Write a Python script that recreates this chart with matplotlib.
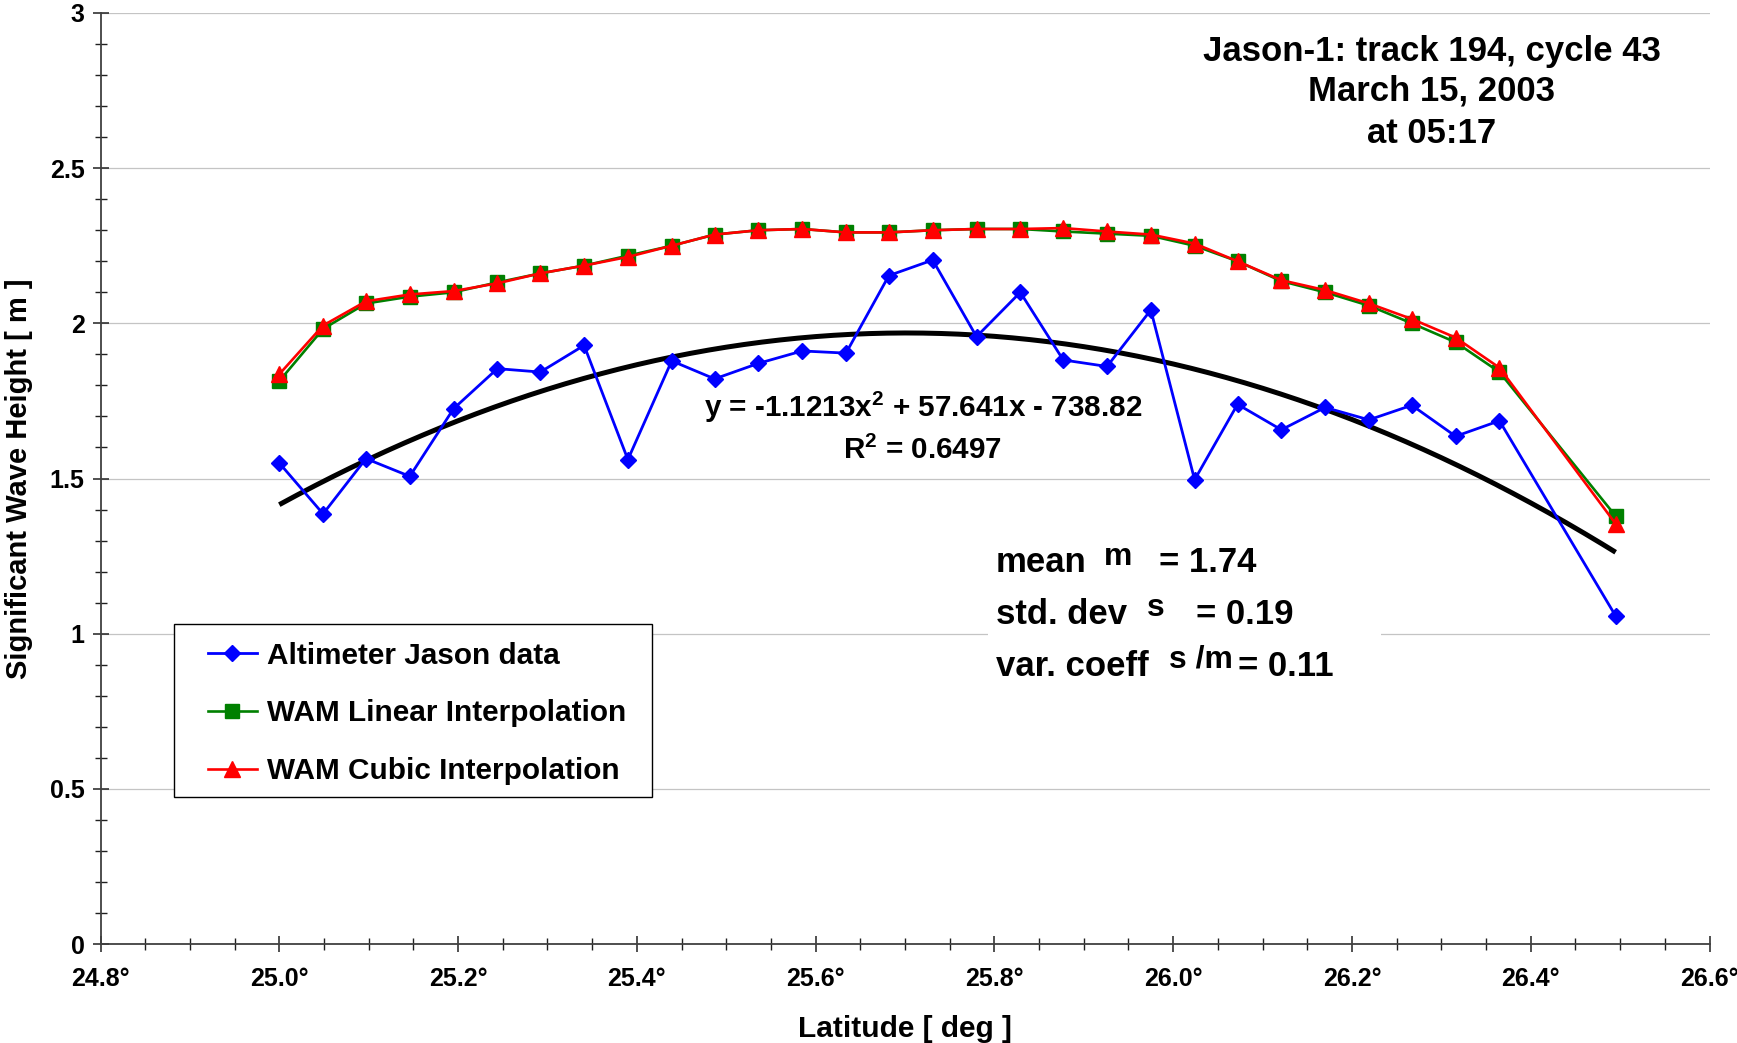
import numpy as np
import matplotlib
matplotlib.use("Agg")
import matplotlib.pyplot as plt
from matplotlib.ticker import MultipleLocator, FuncFormatter
from matplotlib.patches import Rectangle

plt.rcParams['font.family'] = ['Liberation Sans', 'DejaVu Sans']
plt.rcParams['font.weight'] = 'bold'
plt.rcParams['mathtext.fontset'] = 'custom'
plt.rcParams['mathtext.rm'] = 'Liberation Sans:bold'
plt.rcParams['mathtext.bf'] = 'Liberation Sans:bold'
plt.rcParams['mathtext.default'] = 'rm'

# ---- data ----
latitude = [25.000, 25.049, 25.097, 25.146, 25.195, 25.244, 25.292, 25.341,
            25.390, 25.439, 25.487, 25.536, 25.585, 25.634, 25.682, 25.731,
            25.780, 25.829, 25.877, 25.926, 25.975, 26.024, 26.072, 26.121,
            26.170, 26.219, 26.267, 26.316, 26.365, 26.495]
altimeter = [1.550, 1.386, 1.564, 1.507, 1.725, 1.854, 1.843, 1.929,
             1.561, 1.879, 1.821, 1.871, 1.911, 1.904, 2.154, 2.204,
             1.957, 2.100, 1.882, 1.861, 2.043, 1.496, 1.739, 1.657,
             1.729, 1.689, 1.736, 1.636, 1.686, 1.057]
wam_linear = [1.814, 1.982, 2.064, 2.086, 2.100, 2.132, 2.161, 2.186,
              2.218, 2.250, 2.286, 2.300, 2.304, 2.293, 2.293, 2.300,
              2.304, 2.304, 2.296, 2.289, 2.282, 2.250, 2.200, 2.136,
              2.100, 2.057, 2.000, 1.939, 1.843, 1.379]
wam_cubic = [1.836, 1.993, 2.071, 2.093, 2.104, 2.129, 2.161, 2.186,
             2.214, 2.250, 2.286, 2.300, 2.304, 2.293, 2.293, 2.300,
             2.304, 2.304, 2.307, 2.296, 2.286, 2.257, 2.200, 2.139,
             2.107, 2.064, 2.014, 1.954, 1.857, 1.354]
fit_coeffs = [-1.1213, 57.641, -738.82]   # quadratic trendline as printed
r_squared = 0.6497
stat_mean, stat_std, stat_cv = 1.74, 0.19, 0.11

x_ticks = [24.8, 25.0, 25.2, 25.4, 25.6, 25.8, 26.0, 26.2, 26.4, 26.6]
y_ticks = [0, 0.5, 1, 1.5, 2, 2.5, 3]
title_lines = ["Jason-1: track 194, cycle 43", "March 15, 2003", "at 05:17"]
legend_labels = ['Altimeter Jason data', 'WAM Linear Interpolation',
                 'WAM Cubic Interpolation']

W, H = 1737, 1043
fig = plt.figure(figsize=(W / 100, H / 100), dpi=100)
ax_left, ax_right, ax_top, ax_bottom = 100.5, 1709.5, 13, 944
ax = fig.add_axes([ax_left / W, 1 - ax_bottom / H,
                   (ax_right - ax_left) / W, (ax_bottom - ax_top) / H])

def fx(p):
    return p / W

def fy(p):
    return 1 - p / H

h1, = ax.plot(latitude, altimeter, color='#0000FF', lw=2.0, marker='D', ms=8.3,
              label=legend_labels[0], zorder=4)
h2, = ax.plot(latitude, wam_linear, color='#008000', lw=1.9, marker='s', ms=10.5,
              label=legend_labels[1], zorder=5)
h3, = ax.plot(latitude, wam_cubic, color='#FF0000', lw=1.9, marker='^', ms=11.5,
              label=legend_labels[2], zorder=6)

# polynomial trendline (order 2) fitted to the altimeter data
xf = np.linspace(min(latitude), max(latitude), 300)
pfit = np.polyfit(latitude, altimeter, 2)
ax.plot(xf, np.polyval(pfit, xf), color='black', lw=3.6, zorder=3,
        solid_capstyle='butt')

ax.set_xlim(24.8, 26.6)
ax.set_ylim(0, 3)
ax.set_xticks(x_ticks)
ax.xaxis.set_major_formatter(FuncFormatter(lambda v, p: f"{v:.1f}\u00b0"))
ax.xaxis.set_minor_locator(MultipleLocator(0.05))
ax.set_yticks(y_ticks)
ax.set_yticklabels([f"{v:g}" for v in y_ticks])
ax.yaxis.set_minor_locator(MultipleLocator(0.1))

ax.grid(axis='y', which='major', color='#c4c4c4', lw=0.9, zorder=0)
ax.set_axisbelow(True)
for s in ['top', 'right']:
    ax.spines[s].set_visible(False)
for s in ['left', 'bottom']:
    ax.spines[s].set_color('#404040')
    ax.spines[s].set_linewidth(1.3)

ax.tick_params(axis='x', which='major', direction='inout', length=11, width=1.1,
               labelsize=18, pad=11, colors='#202020', labelcolor='black')
ax.tick_params(axis='x', which='minor', direction='inout', length=8, width=1.0,
               colors='#202020')
ax.tick_params(axis='y', which='major', direction='inout', length=11, width=1.1,
               labelsize=18, pad=6, colors='#202020', labelcolor='black')
ax.tick_params(axis='y', which='minor', direction='inout', length=8, width=1.0,
               colors='#202020')

ax.set_ylabel("Significant Wave Height [ m ]", fontsize=21, fontweight='bold',
              va='center')
ax.yaxis.set_label_coords((19 - ax_left) / (ax_right - ax_left), 0.5)
ax.set_xlabel("Latitude [ deg ]", fontsize=21.5, fontweight='bold', va='center')
ax.xaxis.set_label_coords(0.5, (ax_bottom - 1029) / (ax_bottom - ax_top))

# title block
for txt, yc in zip(title_lines, [51, 91, 134]):
    fig.text(fx(1432), fy(yc), txt, ha='center', va='center', fontsize=25,
             fontweight='bold')

# trendline equation
a, b, c = fit_coeffs
eq = f"y = {a:.4f}x$^{{2}}$ + {b:.3f}x - {abs(c):.2f}"
fig.text(fx(923), fy(407), eq, ha='center', va='center', fontsize=21.3)
fig.text(fx(923), fy(450), f"R$^{{2}}$ = {r_squared:.4f}", ha='center',
         va='center', fontsize=21.3)

# statistics box
fig.patches.append(Rectangle((fx(988), fy(690)), fx(1381) - fx(988),
                             fy(530) - fy(690), transform=fig.transFigure,
                             facecolor='white', edgecolor='none', zorder=1))
rows = [("mean", "m", f"= {stat_mean:.2f}", 563, 1104, 1159),
        ("std. dev", "s", f"= {stat_std:.2f}", 614, 1147, 1196),
        ("var. coeff", "s /m", f"= {stat_cv:.2f}", 666, 1169, 1238)]
for lab, sym, val, yc, xs, xv in rows:
    fig.text(fx(996), fy(yc), lab, ha='left', va='center', fontsize=25, zorder=3)
    fig.text(fx(xs), fy(yc - 6), sym, ha='left', va='center', fontsize=23, zorder=3)
    fig.text(fx(xv), fy(yc), val, ha='left', va='center', fontsize=25, zorder=3)

# legend: frame drawn separately as a figure patch, legend on top of it
fig.patches.append(Rectangle((fx(174), fy(797)), fx(652) - fx(174),
                             fy(624) - fy(797), transform=fig.transFigure,
                             facecolor='white', edgecolor='black', lw=1.0,
                             zorder=1))
leg = fig.legend(handles=[h1, h2, h3], labels=legend_labels, loc='upper left',
                 bbox_to_anchor=(fx(208), fy(641.5)),
                 bbox_transform=fig.transFigure, frameon=False,
                 handlelength=1.64, handletextpad=0.35, labelspacing=1.0,
                 borderpad=0, borderaxespad=0,
                 prop={'weight': 'bold', 'size': 21.4})
leg.set_zorder(5)

fig.savefig("out.png", dpi=100, facecolor='white')
